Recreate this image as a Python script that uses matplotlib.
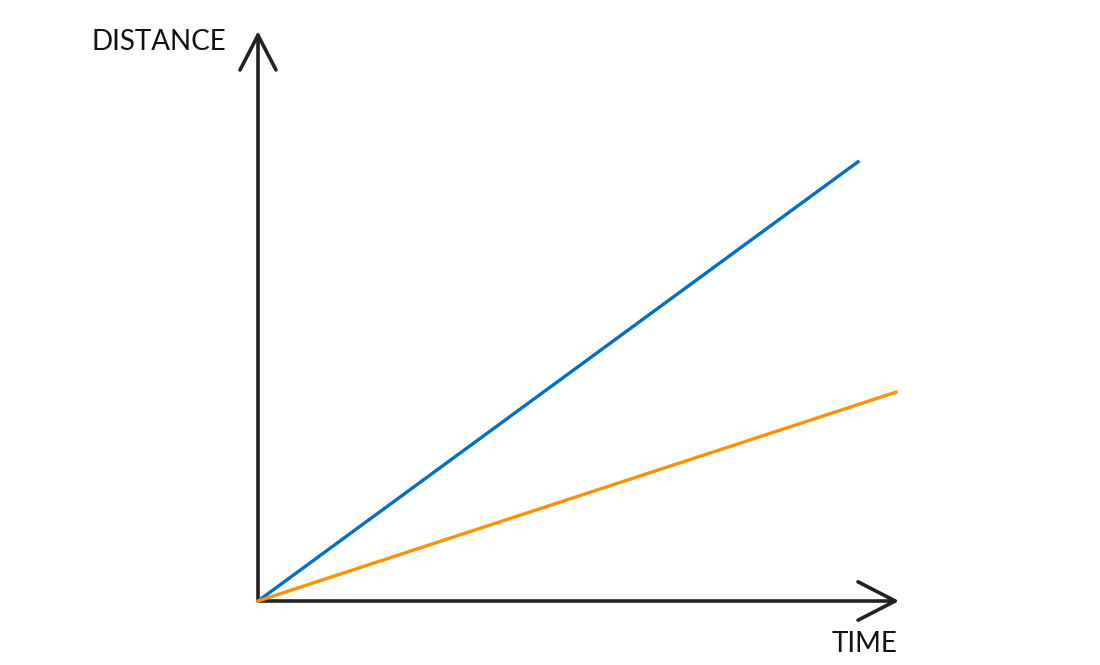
import matplotlib
matplotlib.use('Agg')
import matplotlib.pyplot as plt

# distance-time lines (arbitrary units)
blue_time = [0, 10.0]
blue_dist = [0, 7.32]
orange_time = [0, 10.63]
orange_dist = [0, 3.48]

x_axis_end = 10.62
y_axis_end = 9.43

fig = plt.figure(figsize=(11, 6.65), dpi=100)
ax = fig.add_axes([258 / 1100, 64 / 665, 600 / 1100, 600 / 665])
ax.set_xlim(0, 10)
ax.set_ylim(0, 10)
ax.axis('off')

axis_kw = dict(color='#222222', lw=2.6, solid_capstyle='round', clip_on=False)
# axes with open arrow heads
ax.plot([0, x_axis_end], [0, 0], **axis_kw)
ax.plot([0, 0], [0, y_axis_end], **axis_kw)
ax.plot([x_axis_end - 0.62, x_axis_end, x_axis_end - 0.62], [0.32, 0, -0.32], **axis_kw)
ax.plot([-0.3, 0, 0.3], [y_axis_end - 0.58, y_axis_end, y_axis_end - 0.58], **axis_kw)

ax.plot(blue_time, blue_dist, color='#0070C0', lw=2.4, clip_on=False)
ax.plot(orange_time, orange_dist, color='#FF9100', lw=2.4, clip_on=False)

fig.text(91 / 1100, 1 - 42 / 665, 'DISTANCE', fontsize=20, family='Lato',
         va='center', ha='left', color='#111111')
fig.text(898 / 1100, 1 - 644 / 665, 'TIME', fontsize=20, family='Lato',
         va='center', ha='right', color='#111111')

fig.savefig('out.png', dpi=100, facecolor='white')
